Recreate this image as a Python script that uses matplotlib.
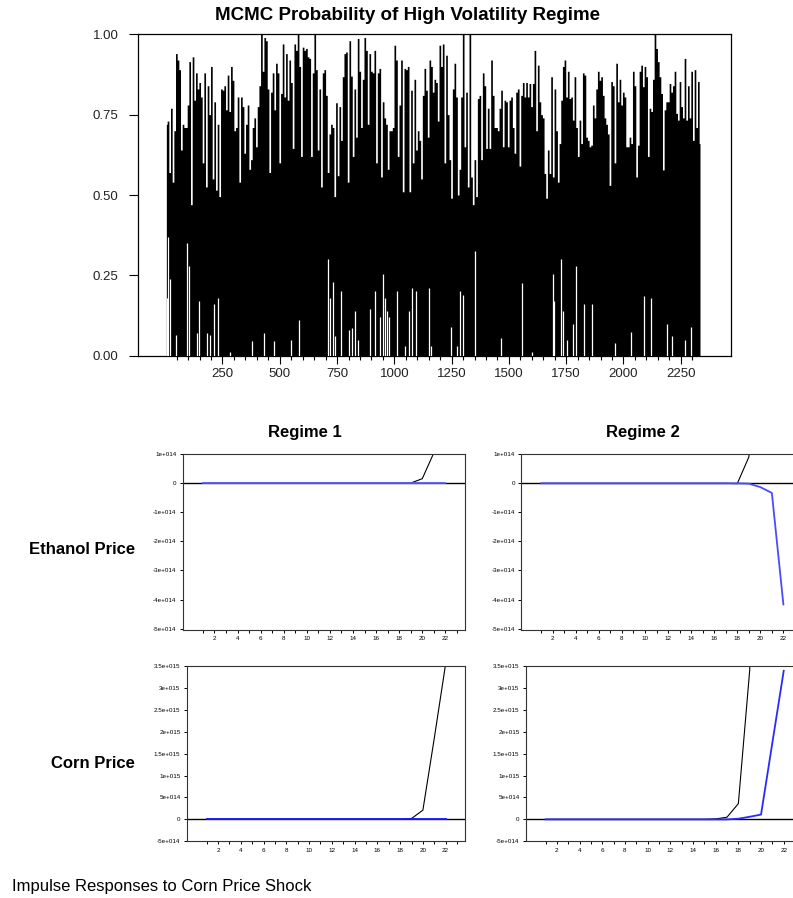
import numpy as np
import matplotlib.pyplot as plt
from matplotlib.ticker import FixedLocator

plt.rcParams['font.family'] = ['Liberation Sans', 'DejaVu Sans']

# ---- top chart: MCMC probability of high volatility regime
# silhouette of the series, read off the picture every ~7 observations
prob_part1 = [0.72, 0.73, 0.57, 0.77, 0.54, 0.70, 0.94, 0.92, 0.89, 0.64, 0.72, 0.71,
              0.71, 0.78, 0.915, 0.47, 0.93, 0.795, 0.88, 0.83, 0.85, 0.805, 0.60, 0.88,
              0.525, 0.84, 0.75, 0.90, 0.55, 0.79, 0.515, 0.72, 0.495, 0.83, 0.826, 0.84,
              0.765, 0.873, 0.76, 0.90, 0.857, 0.70, 0.71, 0.805, 0.54, 0.805, 0.775, 0.63,
              0.72, 0.78, 0.58, 0.61, 0.71, 0.74, 0.65, 0.775, 0.84, 1.0, 0.885, 0.99,
              0.98, 0.83, 0.57, 0.82, 0.88, 0.765, 0.91, 0.88, 0.60, 0.816, 0.97, 0.805,
              0.94, 0.795, 0.92, 0.85, 0.645, 0.97, 0.95, 1.0, 0.90, 0.62, 0.96, 0.95,
              0.956, 0.93, 0.925, 0.62, 0.88, 1.0, 0.89, 0.64, 0.83, 0.525, 0.88, 0.89,
              0.81, 0.57, 0.69, 0.72, 0.71, 0.495, 0.787, 0.56, 0.775, 0.67, 0.868]
prob_part2 = [0.94, 0.945, 0.54, 0.98, 0.87, 0.62, 0.83, 0.68, 0.987, 0.885, 0.71, 0.86,
              0.99, 0.95, 0.72, 0.94, 0.885, 0.88, 0.95, 0.60, 0.88, 0.894, 0.556, 0.79,
              0.74, 0.72, 0.58, 0.70, 0.70, 0.71, 0.966, 0.92, 0.62, 0.78, 0.92, 0.51,
              0.894, 0.89, 0.90, 0.51, 0.826, 0.60, 0.86, 0.64, 0.70, 0.67, 0.55, 0.81,
              0.894, 0.826, 0.68, 0.92, 0.90, 0.82, 0.86, 0.85, 0.73, 0.966, 0.90, 0.97,
              0.60, 0.935, 0.75, 0.61, 0.49, 0.83, 0.91, 0.805, 0.50, 0.58, 0.805, 1.0,
              0.65, 0.82, 0.525, 1.0, 0.556, 0.47, 0.61, 0.495, 0.80, 0.81, 0.61, 0.88,
              0.84, 0.645, 0.77, 0.645, 0.92, 0.81, 0.71, 0.71, 0.70, 0.77, 0.826, 0.65,
              0.795, 0.79, 0.65, 0.795, 0.805, 0.71, 0.63, 0.82, 0.83, 0.59, 0.81, 0.85,
              0.805]
prob_part3 = [0.85, 0.805, 0.847, 0.775, 0.847, 0.95, 0.70, 0.904, 0.79, 0.75, 0.74, 0.567,
              0.49, 0.64, 0.567, 0.868, 0.556, 0.83, 0.70, 0.54, 0.66, 0.795, 0.90, 0.92,
              0.805, 0.885, 0.80, 0.805, 0.733, 0.868, 0.71, 0.62, 0.733, 0.66, 0.88, 0.873,
              0.68, 0.67, 0.65, 0.655, 0.78, 0.74, 0.83, 0.885, 0.857, 0.868, 0.81, 0.74,
              0.72, 0.69, 0.53, 0.853, 0.84, 0.60, 0.91, 0.79, 0.86, 0.78, 0.82, 0.805,
              0.65, 0.65, 0.68, 0.66, 0.885, 0.84, 0.556, 0.655, 0.885, 0.904, 0.837, 0.90,
              0.868, 0.62, 0.77, 0.76, 0.86, 1.0, 0.956, 0.915, 0.868, 0.816, 0.578, 0.765,
              0.79, 0.79, 0.847, 0.82, 0.84, 0.885, 0.754, 0.733, 0.853, 0.775, 0.74, 0.925,
              0.733, 0.84, 0.74, 0.885, 0.67, 0.89, 0.71, 0.853, 0.66]
prob_top = prob_part1 + prob_part2 + prob_part3
first_obs, last_obs = 5, 2334

# white slivers reaching up from zero: observation and height
gap_t = [7, 13, 22, 47, 97, 103, 138, 147, 181, 194, 214, 231, 283, 377, 432, 477,
         550, 585, 712, 721, 731, 740, 768, 800, 815, 829, 843, 895, 917, 939, 952,
         960, 969, 977, 1012, 1048, 1062, 1079, 1096, 1150, 1159, 1249, 1275, 1286,
         1301, 1351, 1467, 1555, 1603, 1691, 1696, 1728, 1734, 1752, 1778, 1793,
         1827, 1864, 1961, 2032, 2091, 2119, 2188, 2212, 2268, 2296]
gap_p = [0.18, 0.37, 0.24, 0.065, 0.35, 0.28, 0.07, 0.17, 0.07, 0.065, 0.16, 0.18,
         0.01, 0.045, 0.07, 0.045, 0.05, 0.11, 0.30, 0.18, 0.23, 0.06, 0.20, 0.08,
         0.085, 0.14, 0.05, 0.145, 0.20, 0.12, 0.255, 0.18, 0.14, 0.12, 0.20, 0.03,
         0.14, 0.21, 0.20, 0.21, 0.03, 0.09, 0.03, 0.20, 0.19, 0.325, 0.055, 0.225,
         0.01, 0.255, 0.17, 0.30, 0.14, 0.05, 0.10, 0.28, 0.16, 0.16, 0.04, 0.075,
         0.185, 0.18, 0.10, 0.06, 0.05, 0.09]

# ---- impulse responses (periods 1..22)
periods = np.arange(1, 23)
eth_r1_black = [0]*18 + [0.01e14, 0.16e14, 1.05e14, 6.0e14]
eth_r1_blue = [0]*22
eth_r2_black = [0]*17 + [-0.01e14, 0.9e14, 5e14, 2e15, 8e15]
eth_r2_blue = [0]*18 + [-0.01e14, -0.13e14, -0.33e14, -4.17e14]
corn_r1_black = [0]*18 + [0.2e14, 2.1e14, 1.85e15, 3.55e15]
corn_r1_blue = [0]*22
corn_r2_black = [0]*15 + [0.1e14, 0.5e14, 3.6e14, 3.4e15, 1.5e16, 3e16, 6e16]
corn_r2_blue = [0]*17 + [0.15e14, 0.6e14, 1.1e14, 1.75e15, 3.39e15]

eth_ticks = [1e14, 0, -1e14, -2e14, -3e14, -4e14, -5e14]
eth_labels = ['1e+014', '0', '-1e+014', '-2e+014', '-3e+014', '-4e+014', '-5e+014']
corn_ticks = [3.5e15, 3e15, 2.5e15, 2e15, 1.5e15, 1e15, 5e14, 0, -5e14]
corn_labels = ['3.5e+015', '3e+015', '2.5e+015', '2e+015', '1.5e+015', '1e+015',
               '5e+014', '0', '-5e+014']

W, H = 793, 898
fig = plt.figure(figsize=(W/100, H/100), dpi=100)

def ax_px(left, top, right, bottom):
    return fig.add_axes([left/W, 1-bottom/H, (right-left)/W, (bottom-top)/H])

def text_px(x, y, s, **kw):
    fig.text(x/W, 1-y/H, s, **kw)

# top chart
ax = ax_px(137.7, 34.3, 730.7, 355.7)
obs = np.linspace(first_obs, last_obs, len(prob_top))
ax.fill_between(obs, 0, prob_top, step='mid', color='black', lw=0, zorder=2)
ax.vlines(gap_t, 0, gap_p, color='white', lw=0.9, zorder=5)
ax.set_xlim(-120, 2468)
ax.set_ylim(0, 1)
ax.xaxis.set_major_locator(FixedLocator([250, 500, 750, 1000, 1250, 1500, 1750, 2000, 2250]))
ax.xaxis.set_minor_locator(FixedLocator(np.arange(50, 2301, 50)))
ax.set_yticks([0, 0.25, 0.5, 0.75, 1.0])
ax.set_yticklabels(['0.00', '0.25', '0.50', '0.75', '1.00'])
ax.tick_params(axis='y', direction='out', length=6.3, width=0.8, pad=7.5, labelsize=9.5, labelcolor='#222222')
ax.tick_params(axis='x', which='major', direction='out', length=5.5, width=0.8, pad=3, labelsize=9.5, labelcolor='#222222')
ax.tick_params(axis='x', which='minor', direction='out', length=3, width=0.8)
for s in ax.spines.values():
    s.set_linewidth(0.9)
text_px(407, 16, 'MCMC Probability of High Volatility Regime',
        fontsize=13.5, fontweight='bold', ha='center', va='center')

def irf_panel(left, top, right, bottom, black, blue, ticks, labels, ylim, blue_col):
    a = ax_px(left, top, right, bottom)
    a.axhline(0, color='black', lw=1.0, zorder=1)
    a.plot(periods, black, color='black', lw=0.8, zorder=2)
    a.plot(periods, blue, color=blue_col, lw=1.3, zorder=3)
    a.set_xlim(-0.75, 23.7)
    a.set_ylim(*ylim)
    a.set_yticks(ticks)
    a.set_yticklabels(labels)
    a.set_xticks(np.arange(2, 23, 2))
    a.xaxis.set_minor_locator(FixedLocator(np.arange(1, 24, 2)))
    a.tick_params(axis='both', which='major', direction='out', length=2.5, width=0.7,
                  labelsize=4.5, pad=2)
    a.tick_params(axis='x', which='minor', direction='out', length=2.5, width=0.7)
    for s in a.spines.values():
        s.set_linewidth(0.8)
        s.set_color('#333333')
    return a

irf_panel(182.7, 454.3, 465, 630, eth_r1_black, eth_r1_blue, eth_ticks, eth_labels,
          (-5.05e14, 1e14), '#5a5aff')
irf_panel(521, 454.3, 803, 630, eth_r2_black, eth_r2_blue, eth_ticks, eth_labels,
          (-5.05e14, 1e14), '#4a4aff')
irf_panel(186.7, 666, 465, 841.3, corn_r1_black, corn_r1_blue, corn_ticks, corn_labels,
          (-5e14, 3.5e15), '#1a1aff')
irf_panel(525.7, 666, 803, 841.3, corn_r2_black, corn_r2_blue, corn_ticks, corn_labels,
          (-5e14, 3.5e15), '#2a2aff')

text_px(304.5, 433, 'Regime 1', fontsize=12, fontweight='bold', ha='center', va='center')
text_px(643, 433, 'Regime 2', fontsize=12, fontweight='bold', ha='center', va='center')
text_px(135, 550, 'Ethanol Price', fontsize=12, fontweight='bold', ha='right', va='center')
text_px(135, 763, 'Corn Price', fontsize=12, fontweight='bold', ha='right', va='center')
text_px(12, 886, 'Impulse Responses to Corn Price Shock', fontsize=12, ha='left', va='center')

fig.savefig('out.png', dpi=100)
